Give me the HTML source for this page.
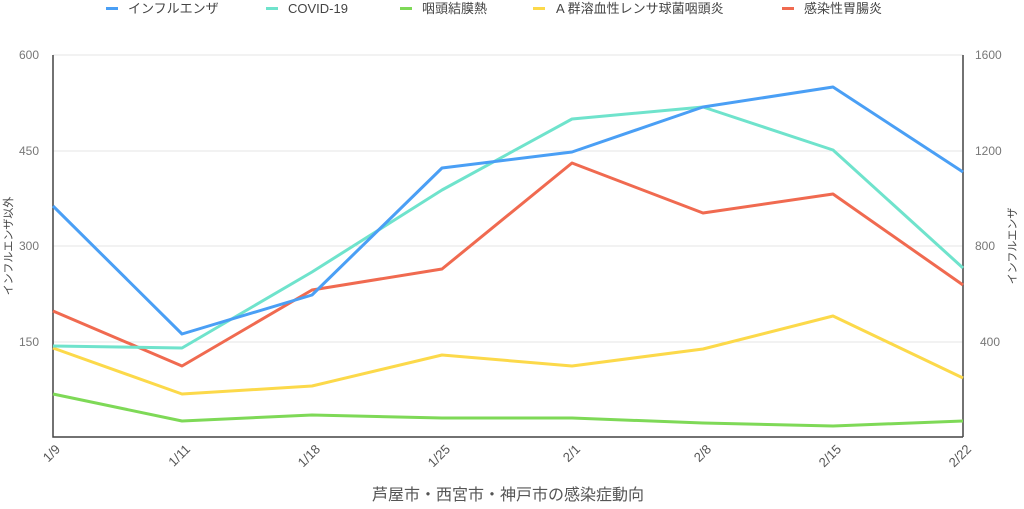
<!DOCTYPE html>
<html><head><meta charset="utf-8"><style>
html,body{margin:0;padding:0;background:#fff}
svg{display:block;font-family:"Liberation Sans","Noto Sans CJK JP",sans-serif}
</style></head><body>
<svg width="1024" height="509" viewBox="0 0 1024 509">
<g font-size="13" fill="#444">
<rect x="106" y="7" width="12" height="3" fill="#4a9ff5"/><text x="128" y="13">インフルエンザ</text>
<rect x="266" y="7" width="12" height="3" fill="#6fe3cc"/><text x="288" y="13">COVID-19</text>
<rect x="400" y="7" width="12" height="3" fill="#7ed957"/><text x="422" y="13">咽頭結膜熱</text>
<rect x="533" y="7" width="12" height="3" fill="#fcd94a"/><text x="556" y="13">A 群溶血性レンサ球菌咽頭炎</text>
<rect x="782" y="7" width="12" height="3" fill="#f06a50"/><text x="804" y="13">感染性胃腸炎</text>
</g>
<g stroke="#e6e6e6" stroke-width="1">
<line x1="53" y1="55" x2="963" y2="55"/><line x1="53" y1="151" x2="963" y2="151"/>
<line x1="53" y1="246" x2="963" y2="246"/><line x1="53" y1="342" x2="963" y2="342"/>
</g>
<g stroke="#444" stroke-width="1.5" fill="none">
<polyline points="53,55 53,437 963,437"/><line x1="963" y1="55" x2="963" y2="437"/>
</g>
<g font-size="12" fill="#777" text-anchor="end">
<text x="39" y="59">600</text><text x="39" y="155">450</text><text x="39" y="250">300</text><text x="39" y="346">150</text>
</g>
<g font-size="12" fill="#777">
<text x="975" y="59">1600</text><text x="975" y="155">1200</text><text x="975" y="250">800</text><text x="980" y="346">400</text>
</g>
<text transform="translate(12,246) rotate(-90)" font-size="11" fill="#444" text-anchor="middle">インフルエンザ以外</text>
<text transform="translate(1016,246) rotate(-90)" font-size="11" fill="#444" text-anchor="middle">インフルエンザ</text>
<g font-size="13" fill="#555" text-anchor="end">
<text transform="translate(61,450) rotate(-45)">1/9</text>
<text transform="translate(191,450) rotate(-45)">1/11</text>
<text transform="translate(321,450) rotate(-45)">1/18</text>
<text transform="translate(451,450) rotate(-45)">1/25</text>
<text transform="translate(581,450) rotate(-45)">2/1</text>
<text transform="translate(712,450) rotate(-45)">2/8</text>
<text transform="translate(842,450) rotate(-45)">2/15</text>
<text transform="translate(972,450) rotate(-45)">2/22</text>
</g>
<text x="508" y="500" font-size="16" fill="#555" text-anchor="middle">芦屋市・西宮市・神戸市の感染症動向</text>
<g fill="none" stroke-width="3" stroke-linejoin="round">
<polyline stroke="#7ed957" points="53,394 182,421 312,415 442,418 572,418 703,423 833,426 963,421"/>
<polyline stroke="#fcd94a" points="53,348 182,394 312,386 442,355 572,366 703,349 833,316 963,378"/>
<polyline stroke="#f06a50" points="53,311 182,366 312,290 442,269 572,163 703,213 833,194 963,285"/>
<polyline stroke="#6fe3cc" points="53,346 182,348 312,272 442,190 572,119 703,107 833,150 963,268"/>
<polyline stroke="#4a9ff5" points="53,206 182,334 312,295 442,168 572,152 703,107 833,87 963,172"/>
</g>
</svg>
</body></html>
